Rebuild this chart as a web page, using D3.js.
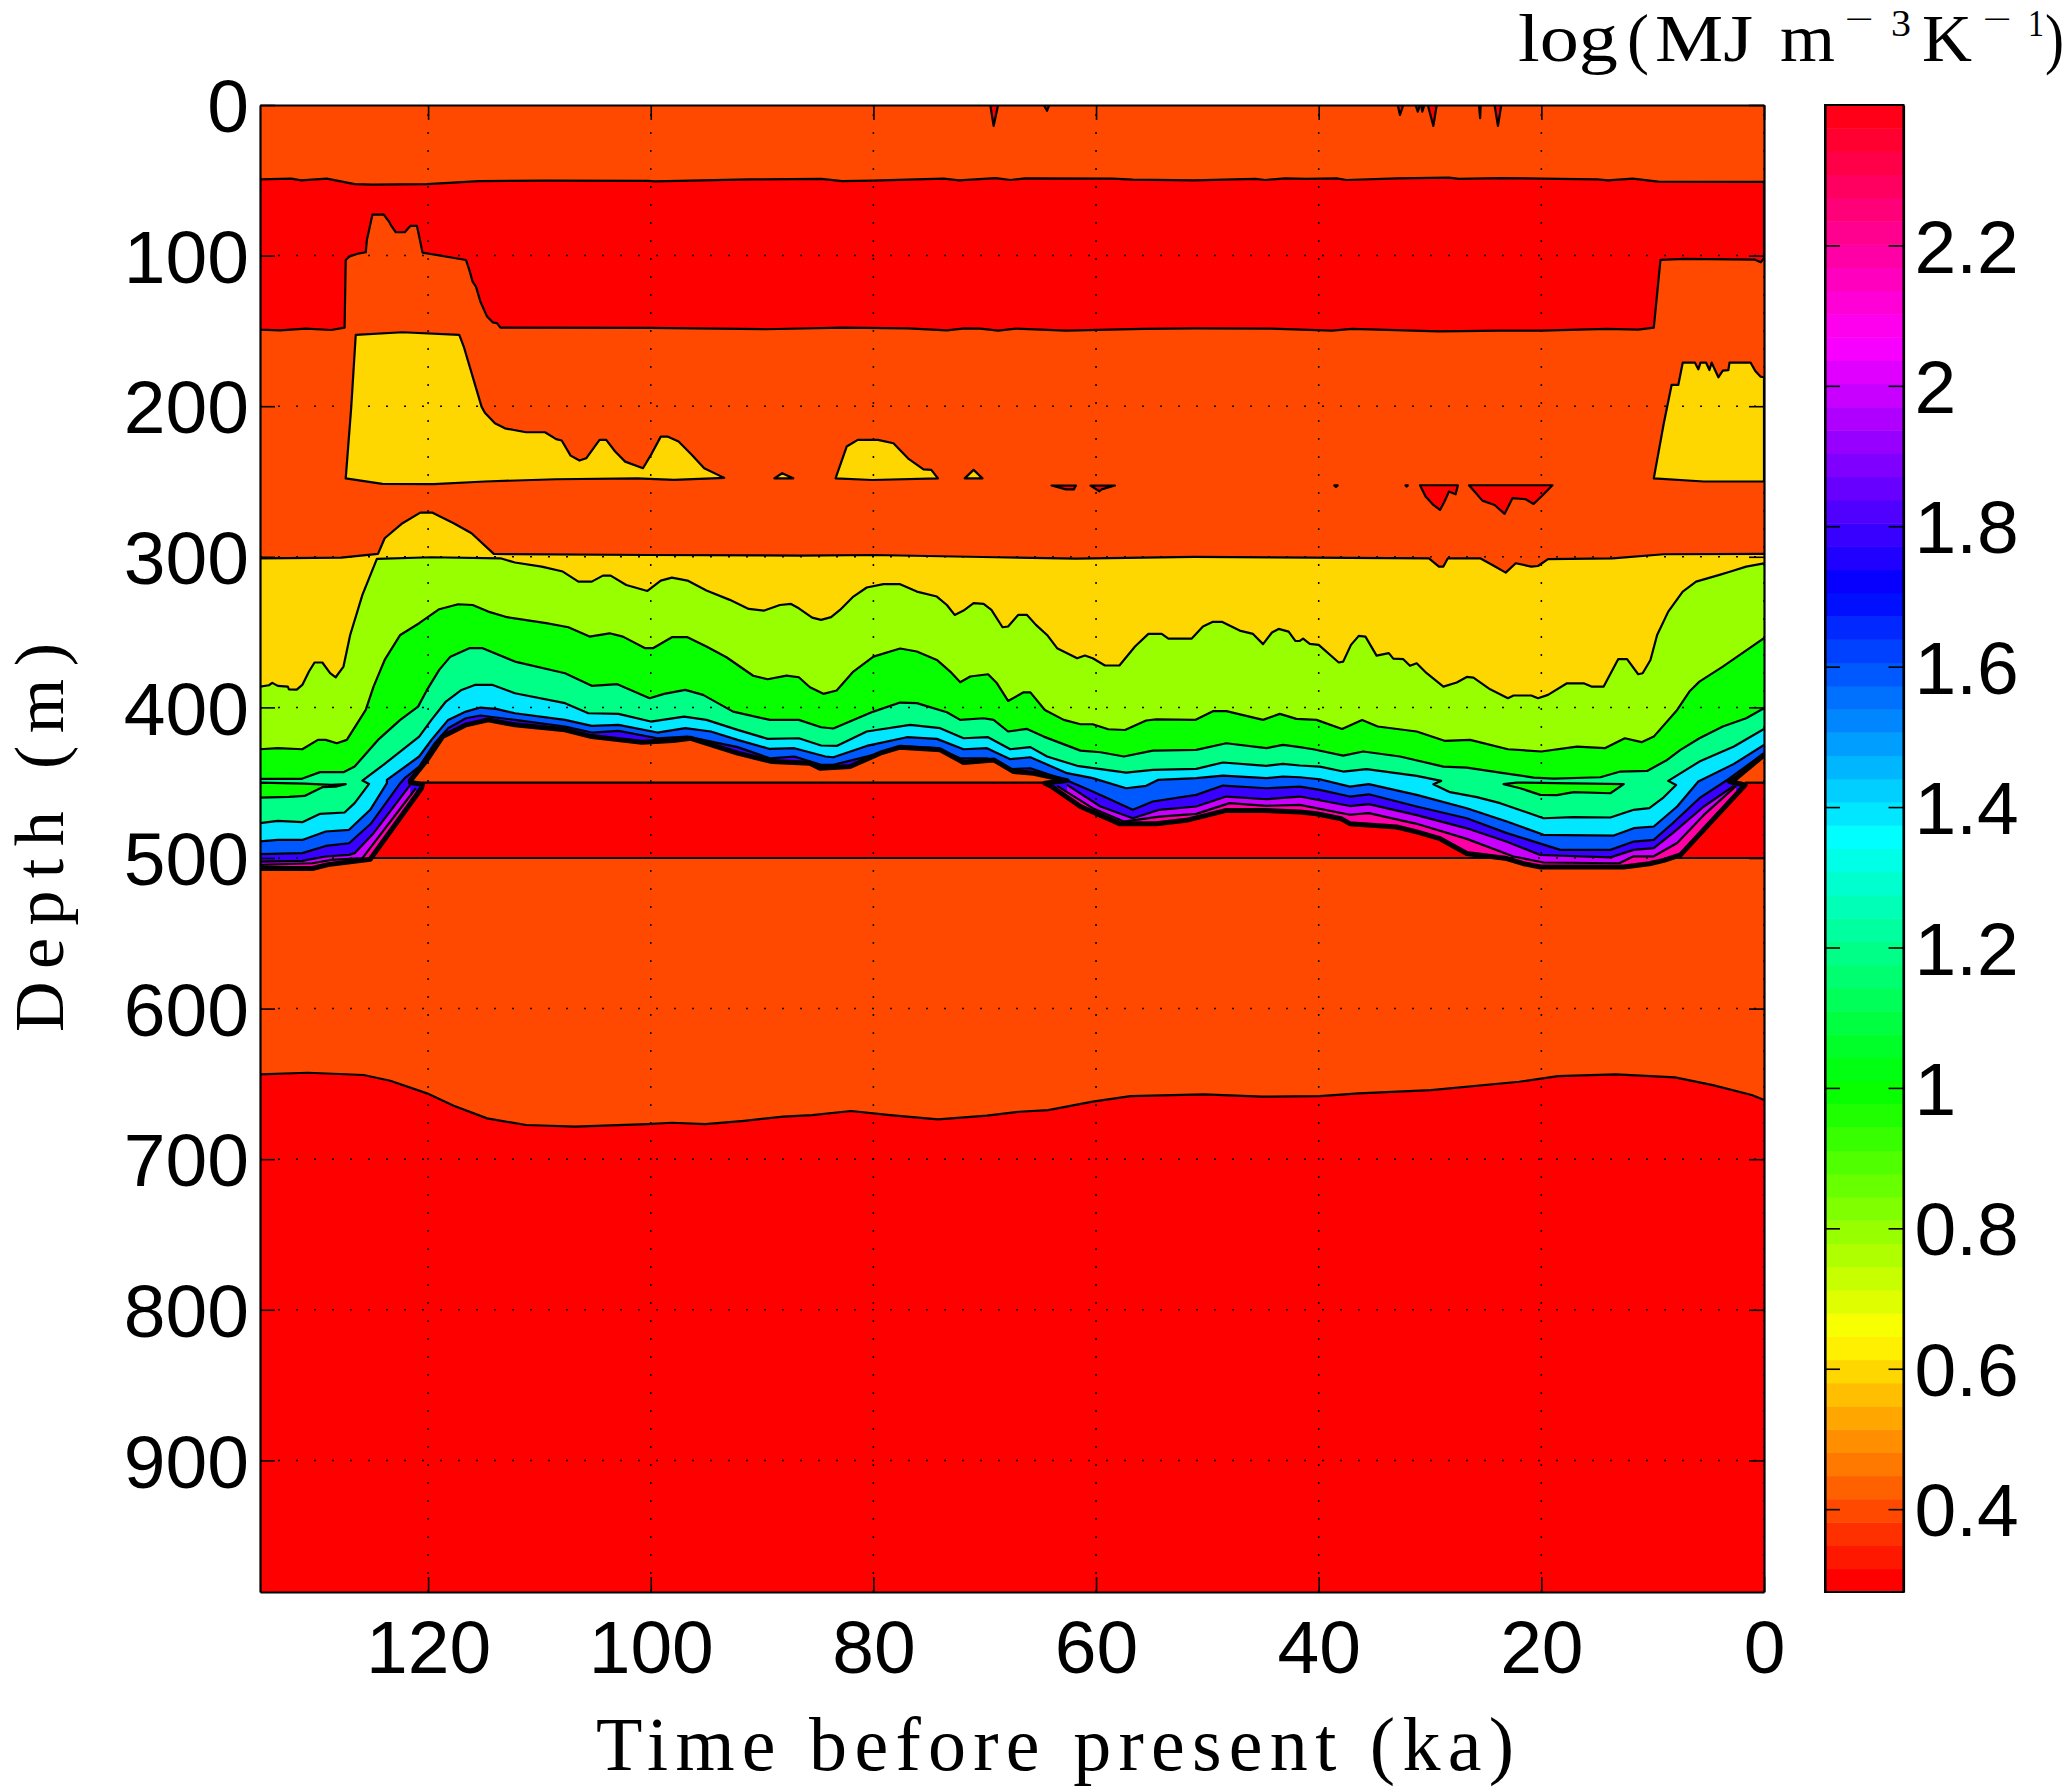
<!DOCTYPE html>
<html>
<head>
<meta charset="utf-8">
<script src="https://cdn.jsdelivr.net/npm/d3@7"></script>
<style>
html,body{margin:0;padding:0;background:#fff}
svg{display:block}
</style>
</head>
<body>
<svg id="chart" width="2067" height="1789"></svg>
<script>
// ---- ticks and titles
const timeTicks = [120,100,80,60,40,20,0];
const depthTicks = [0,100,200,300,400,500,600,700,800,900];
const colorTicks = [2.2,2,1.8,1.6,1.4,1.2,1,0.8,0.6,0.4];
const xTitle = "Time before present (ka)";
const yTitle = "Depth (m)";

// ---- filled contour levels
const levelRed = 0.3, levelOrange = 0.4, levelGold = 0.6, levelLime = 0.8, levelGreen = 1.0,
      levelSpring = 1.2, levelCyan = 1.4, levelBlue = 1.6, levelIndigo = 1.8, levelPurple = 2.0, levelPink = 2.2;

// ---- contours, [time ka, depth m]
const shallowRedTop = [[135.1,49.4],[132.3,48.9],[131.4,50],[129.1,48.9],[126.6,52.5],[125,52.9],[120.1,52.5],[115.4,50.5],[109.4,50.2],[100.2,50.4],[99.6,50.7],[91.1,49.4],[84.7,49.1],[82.8,50.5],[80.1,50.2],[73.7,48.9],[72.3,50],[69,48.5],[67.7,49.8],[66.35,48.7],[58.55,48.9],[56.7,49.6],[51.2,50],[45.7,49.1],[44.8,49.8],[43,48.7],[41.1,49.1],[38.4,48.7],[37.5,49.8],[32.9,48.7],[28.3,48.2],[27.4,49.1],[23.7,48.5],[20,48.9],[15,49.4],[14,50],[11.8,48.9],[9.5,50.9],[0,51.1]];
const shallowRedBottom = [[135.1,149.2],[133.3,149.6],[131,148.5],[128.7,149.4],[127.5,147.8],[127.4,102.9],[127.1,100.7],[126.4,98.9],[125.6,97.8],[125.5,89.6],[125,72.8],[124,72.6],[123.5,77.5],[123.3,80.3],[122.9,84.5],[122.1,84.5],[121.6,80.3],[121,80.3],[120.5,98],[116.6,102.9],[116.3,109.5],[116,117.3],[115.7,120.6],[115.3,130.6],[114.7,140.5],[114.2,144.3],[113.8,144.9],[113.5,147.8],[100.2,148],[89.7,148.9],[82.8,147.8],[76.9,148.3],[73.4,149.6],[71.8,148.3],[70.4,148.5],[68.8,149.8],[67.2,148.5],[62.7,149.8],[55.8,148.7],[51.2,148.3],[44.3,148.5],[38.8,149.8],[37,148.7],[29.2,150.3],[23.7,149.8],[20,149.8],[14.1,148.7],[11.3,149.2],[9.9,147.8],[9.3,102.9],[7.2,102.2],[0.8,102.7],[0.3,104.4],[0,101.8]];
const goldBlockOld = [[127.4,247.9],[126.9,200.3],[126.5,152.7],[122.3,150.9],[117.2,152.7],[116.8,160.4],[115.2,200.3],[114.9,204.3],[114,211.3],[113.1,214.7],[111.2,217.3],[109.5,217.3],[108.5,221.9],[108,222.8],[107.2,232.8],[106.4,236.1],[105.8,234.6],[104.6,222.4],[104,222.4],[103.2,230.1],[102.3,236.8],[100.7,241.2],[99.9,231.3],[99.1,220.2],[98.5,220.2],[97.5,223.5],[96.3,232.4],[95.2,241.2],[93.4,247.6],[97.9,248.9],[101.2,247.9],[108.5,248.5],[114.9,250],[119.5,251.8],[124.1,251.6]];
const goldSmallA = [[88.9,247.9],[88.2,244.5],[87.2,247.9]];
const goldDome = [[83.4,247.9],[82.4,226.8],[81.4,222.4],[79.6,222.4],[78.2,224.6],[76.9,234.6],[75.5,241.9],[74.8,242.3],[74.2,247.9],[80.1,249]];
const goldSmallB = [[71.8,247.9],[71,242.3],[70.2,247.9]];
const goldBlockYoung = [[9.9,247.9],[9,211.3],[8.3,185.9],[7.7,185.9],[7.3,171.1],[6.2,171.1],[5.9,175.5],[5.7,171.1],[5.2,171.1],[4.9,176],[4.7,171.1],[4.1,180.8],[3.7,176.4],[3.2,176],[3.1,171.1],[1.2,171.1],[0.8,176.4],[0.3,180.4],[0,180.8],[0,250],[5.4,250]];
const redDropA = [[64,252.7],[61.8,252.7],[62,255.2],[62.7,255.2]];
const redDropB = [[60.5,252.7],[58.3,252.7],[59.5,255.2],[59.7,256.5]];
const redDropC = [[38.6,252.6],[38.3,252.6],[38.45,253.6]];
const redDropD = [[32.2,252.6],[32,252.6],[32.1,253.4]];
const redDropE = [[30.9,252.5],[27.5,252.5],[27.7,258.5],[28.3,256.7],[28.7,263.3],[29.1,268.9],[29.7,265.6],[30.4,260]];
const redDropF = [[26.5,252.5],[19,252.5],[20,260],[20.7,264.9],[21.4,261.8],[22.6,261.1],[23.3,271.5],[24.2,265.6],[25.3,262.7],[26,256.7]];
const surfaceSpikes = [
  [[69.5,0],[69.2,13.9],[68.8,0]],
  [[64.7,0],[64.4,3.8],[64.2,0]],
  [[32.9,0],[32.7,6.6],[32.4,0]],
  [[31.3,0],[31.1,4.4],[30.9,0]],
  [[30.8,0],[30.7,4.4],[30.5,0]],
  [[30.2,0],[29.7,13.9],[29.4,0]],
  [[25.6,0],[25.5,8.8],[25.45,0]],
  [[24.2,0],[23.9,13.9],[23.6,0]]
];
const goldTop = [[135.1,301],[127.8,300.5],[124.5,298.1],[123.9,287.7],[122.3,277.7],[120.7,270.7],[119.6,270.7],[117.7,277.7],[116.1,284.4],[114.1,298.1],[100.2,298.8],[86.5,299.2],[80.1,298.8],[69,300.3],[61.8,301.2],[51.2,300.1],[30.1,301],[29.2,306.5],[28.8,306.5],[28.4,301],[25.5,301],[24.4,305.4],[23.2,310.5],[22.3,304.3],[20.9,306.5],[20.3,306.1],[19.4,301.6],[13.6,301],[9,298.3],[0,298.1]];
const limeTop = [[135.1,386.2],[134.3,385.3],[134,383.7],[133.5,385.7],[132.6,386.2],[132.5,388],[131.8,388.2],[131.3,385.1],[130.7,376.2],[130.2,370.2],[129.5,370.2],[128.8,377.3],[128.3,380],[127.6,372.9],[127,351.9],[125.9,325.3],[124.6,301.4],[119.7,300.3],[113.5,301],[112.2,303.8],[109.8,306.5],[107.9,309.8],[106.5,316.5],[105.3,316.5],[104.3,312.5],[103.6,312.5],[102.2,318.7],[100.3,322.7],[99.1,315.8],[98.1,313.8],[96.7,315.8],[95,322.4],[92.9,328.6],[91.2,334.6],[89.8,335.7],[88.4,332],[87.4,331.3],[86.7,334.2],[85.5,340.4],[84.7,341.9],[83.8,340.1],[83,335.3],[81.8,326.4],[80.6,320.4],[79.1,318.2],[77.6,318.2],[76.1,323.1],[74.3,326.4],[73.4,332],[72.7,338.6],[71.9,335.7],[71,330.8],[70.1,331.3],[69.4,335.3],[68.4,346.8],[67.9,346.3],[67,338.6],[66.2,338.6],[65.4,345.2],[64.4,351.9],[63.5,360.7],[61.7,367.4],[61,365.6],[60.3,367.4],[59.2,372.2],[57.9,372.2],[56.5,359.6],[55.3,351.2],[54.1,351.2],[53.5,354.3],[51.4,354.3],[50.4,346.3],[49.5,343.2],[48.7,343.2],[47.1,349],[45.9,351.2],[45,358],[44.2,350.3],[43.6,347.9],[42.7,349.7],[42.1,355.9],[41.7,355.9],[41.4,354.3],[40.8,357.8],[40,358.5],[38.2,370.2],[37.8,369.6],[37.1,358.5],[36.4,352.5],[35.8,353],[34.8,365.6],[33.7,364],[33.3,367.6],[32.4,368],[31.8,372.4],[31.2,370.7],[30.3,377.3],[28.8,386.2],[27.6,383.5],[26.7,379.8],[26.1,380.2],[24.6,388],[23,393.9],[22.5,392.1],[20.9,392.1],[20.3,393.9],[19.4,391.7],[17.7,384],[16.2,384],[15.5,386.2],[14.4,386.2],[13.1,368],[12.3,368],[11.3,378],[10.9,377.3],[10.2,368.5],[9.6,351.9],[8.6,336.4],[7.3,323.1],[6.1,316.5],[4,312],[3,309.8],[1.6,306.5],[0,304.3]];
const greenTop = [[135.1,427.8],[133.5,427.1],[131.3,427.8],[129.9,421.6],[129.2,421.6],[128.2,423.8],[127.3,421.6],[125.6,401.7],[124.9,386.2],[123.9,368.5],[122.5,351.9],[120.8,344.1],[119,334.8],[117.3,331.5],[116,332],[114.6,336.4],[112.9,340.1],[109.4,344.1],[107.4,346.8],[105.5,353],[103.7,350.8],[102.5,353],[100.5,360.7],[99.8,360.7],[98.1,353.4],[96.7,353.4],[95,359.6],[93.2,366.7],[90.8,379],[89.5,381.3],[87.8,378.9],[86.7,380],[85.7,386.6],[84.5,391],[83.3,388.8],[81.8,376.2],[80,366.3],[77.6,360.9],[76.1,362.9],[74.3,368.5],[73.1,376.2],[72.2,383.3],[71.3,379.5],[69.7,378],[68.9,384],[67.9,395.7],[66.5,390],[65.9,390],[64.6,401.7],[62.9,408.3],[61.4,411.2],[60.3,411.2],[58.9,414.5],[57.4,415],[55.5,408.7],[54.6,407.9],[51.1,408.3],[49.5,402.5],[48.3,402.5],[45,408.3],[43.5,404.3],[42,407.6],[40.2,408.3],[37.9,414.3],[36.1,408.3],[34.7,412.7],[31.2,416],[28.7,422.2],[26.4,421.6],[23,427.8],[20,429.3],[16.8,426],[14.3,427.1],[12.5,420.5],[11,423.1],[9.9,419.4],[7.8,401.7],[6.7,389.5],[5.8,382.9],[3.7,372.9],[0,354.1]];
const springTop = [[135.1,447.5],[131.4,447.5],[129.7,443],[127.6,443],[126.6,439.3],[124.5,421.6],[122.5,408.3],[120.9,399.5],[120.1,388.4],[119,375.1],[118,366.3],[116.3,360.7],[115.1,360.7],[112.2,369.6],[107.7,377.3],[105.3,385.7],[103,384.6],[100.1,393.9],[98.8,391],[96.9,388.4],[95.3,391.7],[92.6,402.8],[89.3,408.3],[86.7,408.3],[84.7,413.2],[83.6,414],[81.8,408.3],[80,402.8],[77.6,396.8],[76.1,397.2],[73.4,403.2],[72.2,408.3],[70.1,407.2],[69.2,408.3],[67.9,416],[66.2,414.3],[64.7,419.4],[61.4,428.7],[59.6,429.8],[57.5,432.6],[54.9,428.7],[51,428.2],[48.3,423.8],[44.7,427.1],[43.2,424.9],[41.7,426.4],[40.5,427.8],[37.8,432],[36,429.3],[32.7,432.6],[28.8,439.3],[26.7,440],[23.4,443.7],[20.7,446.6],[18.9,447.3],[14.7,446.4],[12.9,442.6],[10.5,442.2],[8.7,434.9],[7.5,428.2],[5.8,420.5],[3.7,412.7],[1.6,407.2],[0,400.6]];
const greenLensOld = [[135.1,449.9],[131.1,450.6],[128.7,451.5],[127.4,451],[128.3,452.6],[129.5,453],[131.1,458.8],[132.5,459.4],[135.1,459.9]];
const greenLensYoung = [[23.4,451],[22.2,449.9],[12.6,451],[13.8,457],[17.1,456.3],[18.6,458.3],[20.1,458.1],[21.9,453.7]];
const cyanTop = [[135.1,476.9],[133.5,475.4],[131.3,476.2],[129.7,470.7],[127.5,469.8],[126.6,463.6],[125.3,450.8],[125.9,448.6],[123.9,437.5],[120.8,419.4],[119.7,408.3],[118.4,396.1],[117,388.4],[115.8,385.1],[114.2,385.1],[112.2,390.6],[107.7,397.2],[105.6,403.9],[102.9,404.3],[100,409.4],[97,406.1],[95,408.3],[92.2,414.9],[89.5,420.9],[86.7,420.5],[84.7,425.3],[83.3,425.6],[80.6,416],[76.7,411.6],[74,413.8],[71.9,420.5],[69.7,419.8],[67.7,427.8],[65.9,426.4],[64.4,432.6],[61.7,438.8],[57.3,443.3],[54.9,441.5],[51,440.8],[48.6,436.6],[44.7,438.8],[43.2,437.5],[41.7,438.6],[39.9,439.3],[37.8,442.6],[35.7,441],[31.2,445.5],[29,448.8],[29.7,451],[28.2,456.3],[25.8,459.6],[23.7,463.6],[19.8,473.6],[17.1,472.9],[13.8,473.1],[11.7,468],[10.3,466.9],[9.1,460.3],[7.9,451.5],[8.6,448.8],[5.8,436],[2.7,426],[0,414.3]];
const blueTop = [[135.1,489],[133.5,488],[131.3,488],[129.2,482.4],[127.1,481.3],[125.2,468],[123.7,450.3],[123.7,448.1],[120.8,432.6],[119.7,421.6],[118.2,408.3],[116.6,402.8],[115.3,400.1],[113.9,401],[112.2,403.9],[107.7,408.3],[105.3,412.3],[102.9,411.6],[99.4,416.7],[96.9,413.8],[94.6,416],[92.2,421.6],[89.3,427.6],[87.1,427.1],[84.3,432.6],[83.6,433.1],[80.6,425.6],[77,419.8],[74.3,420.9],[71.9,427.8],[69.8,427.1],[67.7,434.4],[65.9,433.1],[62.6,443.7],[60.3,447],[57.3,453.7],[55.5,452.1],[54.4,448.1],[51,447],[48.6,445.3],[44.7,447],[43.2,445.9],[41.7,446.4],[39.9,447.7],[37.2,452.6],[35.5,451],[31.2,458.1],[26.7,467],[23.1,475.8],[19.8,484.6],[13.5,485.1],[11.7,480.2],[9.9,479.1],[7.8,465.8],[5.9,449.2],[2.7,437.5],[0,424.9]];
const indigoTop = [[135.1,497.5],[131.3,496.8],[129.2,492],[127.1,490.2],[125.1,476.9],[122.5,450.3],[122.1,447],[120.8,439.3],[119.4,423.8],[118.2,413.8],[116.6,407.2],[115.3,405.4],[112.2,408.3],[107.7,412.7],[105.3,416.7],[102.9,415.6],[99.4,420.5],[96.7,419.4],[92.2,426.4],[89.3,433.8],[87.1,432.6],[84.7,438.2],[83.6,438.2],[77,426],[74.3,427.1],[72.2,433.8],[69.8,433.8],[67.7,441],[65.9,440.4],[62.6,448.6],[60.3,455.9],[56.7,468],[54.9,462.5],[51,458.1],[48.6,451.9],[44.7,453.7],[41.7,452.6],[39.9,454.8],[37.2,459.2],[35.5,457.7],[31.2,465.8],[26.7,473.6],[23.1,483.5],[18.3,494.6],[13.8,494.6],[11.7,489.1],[9.9,488],[8.2,476.9],[5.8,460.3],[3.2,447.7],[0,430.4]];
const purpleTopOld = [[135.1,502.4],[131.3,501.9],[129.2,499],[127.1,497.9],[126.6,496.8],[124.9,483.5],[121.6,451.5]];
const purpleTopYoung = [[62.6,451.5],[59.6,465.8],[56.7,473.6],[54.3,468],[51,465.8],[48.3,459.2],[44.7,461],[41.7,459.2],[37.2,465.5],[35.5,464.2],[31.2,471.5],[26.7,480.3],[23.1,489.2],[20.1,498],[13.8,499.6],[11.7,494.6],[9.9,493.5],[8.2,483.5],[5.4,465.8],[2.7,452.1]];
const pinkTopOld = [[135.1,504.6],[130.4,503.5],[128.7,501.2],[125.9,500.1],[121.1,453.7]];
const pinkTopYoung = [[63.5,452.1],[60.3,466.9],[57.5,475.8],[54.3,472.5],[51,470.7],[48,463.6],[44.7,465.4],[41.7,464.7],[37.2,471.3],[35.5,470.2],[31.2,477.3],[26.7,487.3],[22.5,499],[19.8,503],[13,503.5],[11.7,498.9],[9.9,498.9],[7.8,490.1],[5.4,471.4],[2.5,452.1]];
const interfaceLine = [[135.1,507],[130.4,507],[129,504.4],[125.2,500.8],[120.6,453.7],[120.5,451],[121.6,449.9],[121.6,448.6],[120.1,434.9],[118.7,419.4],[116.6,411.6],[114.6,408.3],[112.2,411.6],[107.7,414.9],[105.3,419.4],[100.8,423.1],[98,422],[96.4,420.5],[92.2,430.4],[89.1,436],[85.7,437.1],[84.8,440.4],[82.1,439.3],[79.4,430.4],[77.6,426.4],[74,428.2],[71.9,436.6],[69.2,434.9],[67.4,442.6],[65.6,443.7],[62.6,448.6],[64.6,450.3],[64.1,452],[61.4,465.8],[57.9,477.2],[54.6,477.2],[51.9,475],[48.3,468.4],[45,468.4],[41.7,469.5],[40.2,470.6],[38,473.9],[37.2,477.2],[33,479.4],[31.2,482.7],[29.1,487.2],[26.7,497],[23.1,500.4],[21.6,503.8],[20.1,506],[12.6,506],[10.3,503.8],[9,501.6],[7.5,497.9],[1.7,451.5],[3.1,449.2],[2.5,447],[0,431.6]];
const deepRedTop = [[135.1,643.7],[130.8,642.6],[125.8,644.1],[123.4,647.9],[120.1,656.3],[117.7,664.5],[114.7,672.9],[111.2,677.3],[106.8,678.4],[100.3,676.7],[98.1,675.8],[95.1,676.7],[91.6,674.5],[88.1,671.8],[85.5,670.7],[82,668],[78.5,670.7],[74.2,673.6],[69.8,671.1],[66.9,668.5],[64.3,667.4],[60.3,661.8],[56.9,658.1],[50.3,657],[45.1,658.5],[39.9,658.1],[36.4,656.3],[29.9,654.1],[22,648.6],[18.5,644.8],[13.3,643.7],[8,645.7],[4.6,650.8],[1.1,657.4],[0,660.7]];
const midRedSpanTop = [[120.5,450],[64.6,450]];
const midRedSpanTopYoung = [[1.7,450],[0,450]];
const midRedSpanBottom = [[125.2,500],[22.5,500]];
const midRedSpanBottomYoung = [[8.5,500],[0,500]];
const midRedDepths = [450,500];

// ---- frame
const W = 2067, H = 1789;
const plot = {l:260, r:1764, t:105, b:1592};
const bar = {l:1825, r:1903.5};
const timeMax = 135.1, depthMax = 987.4, cMin = 0.282, cMax = 2.4;

const x = d3.scaleLinear().domain([timeMax,0]).range([plot.l,plot.r]);
const y = d3.scaleLinear().domain([0,depthMax]).range([plot.t,plot.b]);
const c = d3.scaleLinear().domain([cMin,cMax]).range([plot.b,plot.t]);
const hsvColors = d3.range(64).map(i => d3.hsl(i/64*360,1,0.5).formatHex());
const color = d3.scaleQuantize().domain([cMin,cMax]).range(hsvColors);

const svg = d3.select("#chart");
svg.append("rect").attr("width",W).attr("height",H).attr("fill","#fff");
svg.append("defs").append("clipPath").attr("id","plotClip").append("rect")
  .attr("x",plot.l).attr("y",plot.t).attr("width",plot.r-plot.l).attr("height",plot.b-plot.t);
const g = svg.append("g").attr("clip-path","url(#plotClip)");

const line = d3.line().x(d=>x(d[0])).y(d=>y(d[1]));
const closed = d3.line().x(d=>x(d[0])).y(d=>y(d[1])).curve(d3.curveLinearClosed);
const areaTo = depth => d3.area().x(d=>x(d[0])).y1(d=>y(d[1])).y0(y(depth));
const LINE_W = 2.2;

function poly(pts, level){
  g.append("path").attr("d",closed(pts)).attr("fill",color(level))
   .attr("stroke","#000").attr("stroke-width",LINE_W).attr("stroke-linejoin","round");
}
function contour(pts, w){
  g.append("path").attr("d",line(pts)).attr("fill","none")
   .attr("stroke","#000").attr("stroke-width",w||LINE_W).attr("stroke-linejoin","round");
}

// base
g.append("rect").attr("x",x(timeMax)).attr("y",y(0)).attr("width",x(0)-x(timeMax)).attr("height",y(depthMax)-y(0))
 .attr("fill",color(levelOrange));
// deep red
g.append("path").attr("d",areaTo(depthMax)(deepRedTop)).attr("fill",color(levelRed));
contour(deepRedTop);
// shallow band
poly(shallowRedTop.concat(shallowRedBottom.slice().reverse()), levelRed);
// surface spikes
surfaceSpikes.forEach(s => poly(s, levelRed));
// gold lenses and red drops near 250 m
[goldBlockOld,goldSmallA,goldDome,goldSmallB,goldBlockYoung].forEach(p => poly(p, levelGold));
[redDropA,redDropB,redDropC,redDropD,redDropE,redDropF].forEach(p => poly(p, levelRed));

// stacked layers, painter's order
const floorDepth = 515;
const layers = [
  [goldTop, levelGold],[limeTop, levelLime],[greenTop, levelGreen],[springTop, levelSpring],
  [cyanTop, levelCyan],[blueTop, levelBlue],[indigoTop, levelIndigo],
  [purpleTopOld, levelPurple],[purpleTopYoung, levelPurple],[pinkTopOld, levelPink],[pinkTopYoung, levelPink]
];
layers.forEach(([pts,lev]) => {
  g.append("path").attr("d",areaTo(floorDepth)(pts)).attr("fill",color(lev));
});
layers.forEach(([pts]) => contour(pts));
poly(greenLensOld, levelGreen);
poly(greenLensYoung, levelGreen);

// below the interface
g.append("path").attr("d",areaTo(600)(interfaceLine)).attr("fill",color(levelOrange));
const clampMid = interfaceLine.filter(d=>d[0]<=125.2)
  .map(d=>[d[0],Math.min(midRedDepths[1],Math.max(midRedDepths[0],d[1]))]);
g.append("path").attr("d",areaTo(midRedDepths[1])(clampMid)).attr("fill",color(levelRed));
contour(midRedSpanTop); contour(midRedSpanTopYoung);
contour(midRedSpanBottom); contour(midRedSpanBottomYoung);
contour(interfaceLine,5);

// dotted grid
const gridDash = "2 16";
timeTicks.forEach(t => g.append("line").attr("x1",x(t)).attr("x2",x(t)).attr("y1",plot.b).attr("y2",plot.t)
  .attr("stroke","#000").attr("stroke-width",1.5).attr("stroke-dasharray",gridDash));
depthTicks.slice(1).forEach(d => g.append("line").attr("x1",plot.l).attr("x2",plot.r).attr("y1",y(d)).attr("y2",y(d))
  .attr("stroke","#000").attr("stroke-width",1.5).attr("stroke-dasharray",gridDash));

// axes
const TICK = 15, sans = "'Liberation Sans',Arial,sans-serif", serif = "'Liberation Serif','Times New Roman',serif";
const TICK_FONT = 75;
function styleAxis(a){
  a.selectAll("path.domain").attr("stroke","#000").attr("stroke-width",2.2);
  a.selectAll(".tick line").attr("stroke","#000").attr("stroke-width",1.6);
  a.selectAll("text").attr("font-family",sans).attr("font-size",TICK_FONT).attr("fill","#000");
  return a;
}
function mirror(a){ a.selectAll("text").remove(); return a; }
styleAxis(svg.append("g").attr("transform",`translate(0,${plot.b})`)
  .call(d3.axisBottom(x).tickValues(timeTicks).tickSizeInner(-TICK).tickSizeOuter(0).tickPadding(28)));
mirror(styleAxis(svg.append("g").attr("transform",`translate(0,${plot.t})`)
  .call(d3.axisTop(x).tickValues(timeTicks).tickSizeInner(-TICK).tickSizeOuter(0))));
const yAxisL = styleAxis(svg.append("g").attr("transform",`translate(${plot.l},0)`)
  .call(d3.axisLeft(y).tickValues(depthTicks).tickSizeInner(-TICK).tickSizeOuter(0).tickPadding(11)));
yAxisL.selectAll("text").attr("dy","0.355em");
mirror(styleAxis(svg.append("g").attr("transform",`translate(${plot.r},0)`)
  .call(d3.axisRight(y).tickValues(depthTicks).tickSizeInner(-TICK).tickSizeOuter(0))));

// colour bar
svg.append("g").selectAll("rect").data(hsvColors).join("rect")
  .attr("x",bar.l).attr("width",bar.r-bar.l)
  .attr("y",(d,i)=>c(cMin+(i+1)/64*(cMax-cMin)))
  .attr("height",(plot.b-plot.t)/64+0.5)
  .attr("fill",d=>d);
svg.append("rect").attr("x",bar.l).attr("y",plot.t).attr("width",bar.r-bar.l).attr("height",plot.b-plot.t)
  .attr("fill","none").attr("stroke","#000").attr("stroke-width",2);
const cAxisR = styleAxis(svg.append("g").attr("transform",`translate(${bar.r},0)`)
  .call(d3.axisRight(c).tickValues(colorTicks).tickSizeInner(-TICK).tickSizeOuter(0).tickPadding(11).tickFormat(d=>String(d))));
cAxisR.selectAll("text").attr("dy","0.355em");
mirror(styleAxis(svg.append("g").attr("transform",`translate(${bar.l},0)`)
  .call(d3.axisLeft(c).tickValues(colorTicks).tickSizeInner(-TICK).tickSizeOuter(0))));

// titles
svg.append("text").attr("x",596).attr("y",1770).attr("font-family",serif).attr("font-size",76)
  .attr("textLength",918).attr("lengthAdjust","spacing").attr("fill","#000").text(xTitle);
svg.append("text").attr("transform","translate(63,1032) rotate(-90)").attr("font-family",serif).attr("font-size",70)
  .attr("textLength",389).attr("lengthAdjust","spacing").attr("fill","#000").text(yTitle);

// unit label, set piece by piece
const unitPieces = [
  {s:"log", x:1518, y:61, fs:68, len:100},
  {s:"(", x:1627, y:61, fs:68, len:22},
  {s:"MJ", x:1655, y:61, fs:68, len:98},
  {s:"m", x:1780, y:61, fs:68, len:55},
  {s:"\u2212", x:1845, y:29, fs:30, len:29},
  {s:"3", x:1891, y:36, fs:38, len:20},
  {s:"K", x:1922, y:61, fs:68, len:50},
  {s:"\u2212", x:1983, y:29, fs:30, len:29},
  {s:"1", x:2028, y:36, fs:38, len:16},
  {s:")", x:2045, y:61, fs:68, len:19}
];
svg.append("g").selectAll("text").data(unitPieces).join("text")
  .attr("x",d=>d.x).attr("y",d=>d.y).attr("font-family",serif).attr("font-size",d=>d.fs)
  .attr("textLength",d=>d.len).attr("lengthAdjust","spacingAndGlyphs").attr("fill","#000").text(d=>d.s);
</script>
</body>
</html>
